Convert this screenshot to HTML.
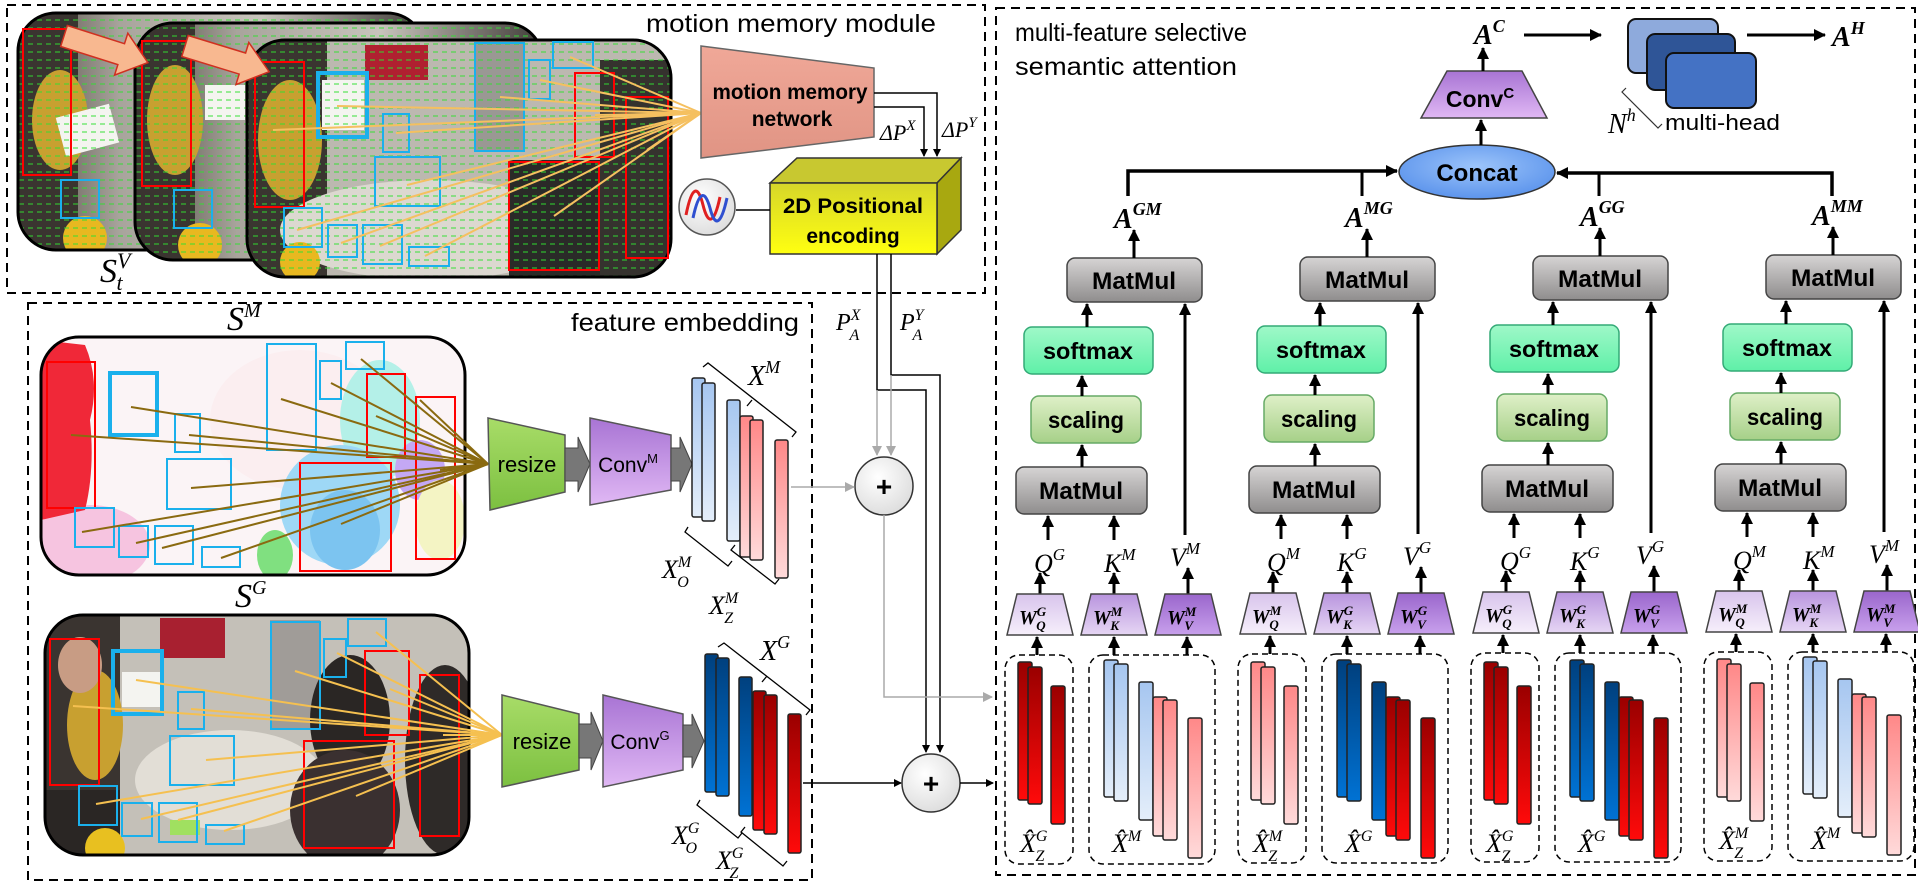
<!DOCTYPE html>
<html><head><meta charset="utf-8"><style>
html,body{margin:0;padding:0;background:#fff;}
svg{display:block;}
.t{font-family:"Liberation Sans",sans-serif;fill:#000;}
.b{font-family:"Liberation Sans",sans-serif;font-weight:bold;fill:#000;}
.m{font-family:"Liberation Serif",serif;font-style:italic;fill:#000;}
.mb{font-family:"Liberation Serif",serif;font-style:italic;font-weight:bold;fill:#000;}
</style></head><body>
<svg width="1918" height="887" viewBox="0 0 1918 887" xmlns="http://www.w3.org/2000/svg">
<defs>
<marker id="ah" markerWidth="8" markerHeight="8" refX="7" refY="4" orient="auto" markerUnits="userSpaceOnUse"><path d="M0,0 L8,4 L0,8 Z" fill="#000"/></marker>
<marker id="ahb" markerWidth="12" markerHeight="12" refX="11" refY="6" orient="auto" markerUnits="userSpaceOnUse"><path d="M0,0 L12,6 L0,12 Z" fill="#000"/></marker>
<marker id="ahg" markerWidth="10" markerHeight="10" refX="9" refY="5" orient="auto" markerUnits="userSpaceOnUse"><path d="M0,0 L10,5 L0,10 Z" fill="#aaa"/></marker>
<linearGradient id="gMat" x1="0" y1="0" x2="0" y2="1"><stop offset="0" stop-color="#d6d4d4"/><stop offset="1" stop-color="#8f8d8d"/></linearGradient>
<linearGradient id="gSoft" x1="0" y1="0" x2="0" y2="1"><stop offset="0" stop-color="#9ff8c8"/><stop offset="1" stop-color="#5ff0a8"/></linearGradient>
<linearGradient id="gScal" x1="0" y1="0" x2="0" y2="1"><stop offset="0" stop-color="#dff0c8"/><stop offset="1" stop-color="#a6d088"/></linearGradient>
<linearGradient id="gWq" x1="0" y1="0" x2="0" y2="1"><stop offset="0" stop-color="#d8c4ec"/><stop offset="1" stop-color="#f6effb"/></linearGradient>
<linearGradient id="gWk" x1="0" y1="0" x2="0" y2="1"><stop offset="0" stop-color="#b894de"/><stop offset="1" stop-color="#e6d6f4"/></linearGradient>
<linearGradient id="gWv" x1="0" y1="0" x2="0" y2="1"><stop offset="0" stop-color="#9a66cc"/><stop offset="1" stop-color="#c8a0ec"/></linearGradient>
<linearGradient id="gConv" x1="0" y1="0" x2="0" y2="1"><stop offset="0" stop-color="#a874d4"/><stop offset="1" stop-color="#e0b8f4"/></linearGradient>
<linearGradient id="gRes" x1="0" y1="0" x2="0" y2="1"><stop offset="0" stop-color="#a8dc68"/><stop offset="1" stop-color="#7cc040"/></linearGradient>
<linearGradient id="gDR" x1="0" y1="0" x2="0" y2="1"><stop offset="0" stop-color="#9a0000"/><stop offset="1" stop-color="#ff0a0a"/></linearGradient>
<linearGradient id="gPk" x1="0" y1="0" x2="0" y2="1"><stop offset="0" stop-color="#ff8888"/><stop offset="1" stop-color="#ffdada"/></linearGradient>
<linearGradient id="gLB" x1="0" y1="0" x2="0" y2="1"><stop offset="0" stop-color="#a6c6f0"/><stop offset="1" stop-color="#e4eefa"/></linearGradient>
<linearGradient id="gDB" x1="0" y1="0" x2="0" y2="1"><stop offset="0" stop-color="#00407e"/><stop offset="1" stop-color="#0072d4"/></linearGradient>
<linearGradient id="gYel" x1="0" y1="0" x2="0" y2="1"><stop offset="0" stop-color="#d6d62a"/><stop offset="1" stop-color="#ffff10"/></linearGradient>
<linearGradient id="gMMN" x1="0" y1="0" x2="0" y2="1"><stop offset="0" stop-color="#f0a898"/><stop offset="1" stop-color="#e09484"/></linearGradient>
<radialGradient id="gCat" cx="0.5" cy="0.4" r="0.6"><stop offset="0" stop-color="#9cc4fa"/><stop offset="1" stop-color="#5c94ec"/></radialGradient>
<radialGradient id="gPl" cx="0.4" cy="0.35" r="0.7"><stop offset="0" stop-color="#ffffff"/><stop offset="1" stop-color="#dcdcdc"/></radialGradient>
<pattern id="dots" width="9" height="8" patternUnits="userSpaceOnUse"><path d="M1,4 L6,4" stroke="#30e030" stroke-width="1.2"/></pattern>
<linearGradient id="gPhoto" x1="0" y1="0" x2="1" y2="0"><stop offset="0" stop-color="#4a443c"/><stop offset="0.25" stop-color="#a8a49c"/><stop offset="0.6" stop-color="#c8c4bc"/><stop offset="1" stop-color="#403c38"/></linearGradient>
<clipPath id="c1"><rect x="18" y="13" width="407" height="237" rx="38"/></clipPath>
<clipPath id="c2"><rect x="135" y="23" width="408" height="237" rx="38"/></clipPath>
<clipPath id="c3"><rect x="247" y="40" width="424" height="237" rx="38"/></clipPath>
<clipPath id="cM"><rect x="41" y="337" width="424" height="238" rx="38"/></clipPath>
<clipPath id="cG"><rect x="45" y="615" width="424" height="240" rx="38"/></clipPath>
</defs>

<!-- dashed containers -->
<rect x="7" y="5" width="978" height="288" fill="none" stroke="#000" stroke-width="2" stroke-dasharray="9,6"/>
<rect x="28" y="303" width="784" height="577" fill="none" stroke="#000" stroke-width="2" stroke-dasharray="9,6"/>
<rect x="996" y="8" width="919" height="867" fill="none" stroke="#000" stroke-width="2" stroke-dasharray="9,6"/>

<!-- photo frames top -->
<g clip-path="url(#c1)">
<rect x="18" y="13" width="407" height="237" fill="url(#gPhoto)"/>
<rect x="18" y="13" width="60" height="237" fill="#3a3430"/>
<ellipse cx="60" cy="120" rx="28" ry="50" fill="#c8a030"/>
<rect x="60" y="110" width="55" height="40" fill="#f4f4f0" transform="rotate(-15 88 130)"/>
<circle cx="85" cy="238" r="22" fill="#e8b820"/>
<rect x="18" y="13" width="407" height="237" fill="url(#dots)" opacity="0.8"/>
</g>
<rect x="18" y="13" width="407" height="237" rx="38" fill="none" stroke="#000" stroke-width="3"/>
<rect x="23" y="29" width="48" height="146" fill="none" stroke="#f00" stroke-width="2"/>
<rect x="61" y="180" width="38" height="38" fill="none" stroke="#1ab0ec" stroke-width="2"/>
<g clip-path="url(#c2)">
<rect x="135" y="23" width="408" height="237" fill="url(#gPhoto)"/>
<rect x="135" y="23" width="60" height="237" fill="#3a3430"/>
<ellipse cx="175" cy="120" rx="28" ry="55" fill="#c8a030"/>
<rect x="205" y="85" width="40" height="35" fill="#f4f4f0"/>
<circle cx="200" cy="245" r="22" fill="#e8b820"/>
<rect x="135" y="23" width="408" height="237" fill="url(#dots)" opacity="0.8"/>
</g>
<rect x="135" y="23" width="408" height="237" rx="38" fill="none" stroke="#000" stroke-width="3"/>
<rect x="142" y="41" width="49" height="145" fill="none" stroke="#f00" stroke-width="2"/>
<rect x="174" y="190" width="38" height="38" fill="none" stroke="#1ab0ec" stroke-width="2"/>
<g clip-path="url(#c3)">
<rect x="247" y="40" width="424" height="237" fill="#bcb8b0"/>
<rect x="247" y="40" width="80" height="237" fill="#3a3530"/>
<ellipse cx="290" cy="140" rx="32" ry="60" fill="#c8a030"/>
<rect x="365" y="45" width="63" height="35" fill="#b02030"/>
<rect x="475" y="43" width="50" height="107" fill="#9a9894"/>
<ellipse cx="430" cy="230" rx="150" ry="50" fill="#dcd8d0"/>
<rect x="509" y="160" width="92" height="117" fill="#2a2a28"/>
<rect x="600" y="60" width="71" height="217" fill="#35322e"/>
<rect x="322" y="80" width="42" height="50" fill="#f4f4f0"/>
<circle cx="300" cy="262" r="20" fill="#e8b820"/>
<rect x="247" y="40" width="424" height="237" fill="url(#dots)" opacity="0.8"/>
</g>
<rect x="247" y="40" width="424" height="237" rx="38" fill="none" stroke="#000" stroke-width="3"/>
<g fill="none" stroke-width="2">
<rect x="255" y="62" width="49" height="145" stroke="#f00"/>
<rect x="318" y="73" width="49" height="64" stroke="#1ab0ec" stroke-width="4"/>
<rect x="383" y="114" width="26" height="38" stroke="#1ab0ec"/>
<rect x="475" y="43" width="49" height="108" stroke="#1ab0ec"/>
<rect x="553" y="42" width="40" height="26" stroke="#1ab0ec"/>
<rect x="529" y="60" width="21" height="39" stroke="#1ab0ec"/>
<rect x="575" y="73" width="39" height="84" stroke="#f00"/>
<rect x="626" y="97" width="42" height="161" stroke="#f00"/>
<rect x="375" y="157" width="65" height="49" stroke="#1ab0ec"/>
<rect x="509" y="162" width="90" height="108" stroke="#f00"/>
<rect x="284" y="208" width="38" height="39" stroke="#1ab0ec"/>
<rect x="328" y="225" width="29" height="32" stroke="#1ab0ec"/>
<rect x="363" y="225" width="39" height="39" stroke="#1ab0ec"/>
<rect x="409" y="247" width="40" height="19" stroke="#1ab0ec"/>
</g>
<g stroke="#f5c060" stroke-width="2">
<line x1="273" y1="130" x2="701" y2="113"/><line x1="337" y1="106" x2="701" y2="113"/>
<line x1="396" y1="133" x2="701" y2="113"/><line x1="500" y1="97" x2="701" y2="113"/>
<line x1="570" y1="57" x2="701" y2="113"/><line x1="540" y1="80" x2="701" y2="113"/>
<line x1="595" y1="115" x2="701" y2="113"/><line x1="407" y1="185" x2="701" y2="113"/>
<line x1="554" y1="216" x2="701" y2="113"/><line x1="297" y1="230" x2="701" y2="113"/>
<line x1="341" y1="243" x2="701" y2="113"/><line x1="380" y1="246" x2="701" y2="113"/>
<line x1="425" y1="256" x2="701" y2="113"/><line x1="647" y1="150" x2="701" y2="113"/>
</g>
<!-- pink arrows -->
<g transform="translate(64,36) rotate(17.6)"><polygon points="0,-11 60,-11 60,-22 88,0 60,22 60,11 0,11" fill="#f8b890" stroke="#d03020" stroke-width="1.5"/></g>
<g transform="translate(185,46) rotate(17)"><polygon points="0,-11 60,-11 60,-22 88,0 60,22 60,11 0,11" fill="#f8b890" stroke="#d03020" stroke-width="1.5"/></g>
<text class="m" x="100" y="282" font-size="34">S<tspan font-size="22" dy="-14">V</tspan><tspan font-size="22" dx="-14" dy="22">t</tspan></text>

<!-- motion memory module -->
<text class="t" x="646" y="32" font-size="25" textLength="290" lengthAdjust="spacingAndGlyphs">motion memory module</text>
<polygon points="701,46 874,68 874,137 701,158" fill="url(#gMMN)" stroke="#666" stroke-width="1.5"/>
<text class="b" x="790" y="99" font-size="21" text-anchor="middle" textLength="155" lengthAdjust="spacingAndGlyphs">motion memory</text>
<text class="b" x="792" y="126" font-size="21" text-anchor="middle">network</text>
<polyline points="874,93 937,93 937,156" fill="none" stroke="#000" stroke-width="1.5" marker-end="url(#ah)"/>
<polyline points="874,107 924,107 924,156" fill="none" stroke="#000" stroke-width="1.5" marker-end="url(#ah)"/>
<text class="m" x="880" y="140" font-size="22">ΔP<tspan font-size="15" dy="-10">X</tspan></text>
<text class="m" x="942" y="137" font-size="22">ΔP<tspan font-size="15" dy="-10">Y</tspan></text>
<!-- 2D box -->
<polygon points="770,183 797,158 961,158 937,183" fill="#c8c830" stroke="#333" stroke-width="1.5"/>
<polygon points="937,183 961,158 961,230 937,254" fill="#a8a810" stroke="#333" stroke-width="1.5"/>
<rect x="770" y="183" width="167" height="71" fill="url(#gYel)" stroke="#333" stroke-width="1.5"/>
<text class="b" x="853" y="213" font-size="21" text-anchor="middle" textLength="140" lengthAdjust="spacingAndGlyphs">2D Positional</text>
<text class="b" x="853" y="243" font-size="21" text-anchor="middle">encoding</text>
<line x1="736" y1="210" x2="770" y2="210" stroke="#000" stroke-width="1.5"/>
<circle cx="707" cy="207" r="28" fill="url(#gPl)" stroke="#555" stroke-width="1.5"/>
<path d="M686,215 C692,185 698,185 703,205 C708,225 714,225 720,197" fill="none" stroke="#e02020" stroke-width="3"/>
<path d="M693,218 C699,190 705,190 710,208 C715,228 721,225 727,198" fill="none" stroke="#3050d0" stroke-width="3"/>
<!-- PA lines -->
<text class="m" x="836" y="330" font-size="24">P<tspan font-size="16" dy="-10">X</tspan><tspan font-size="16" dx="-11" dy="20">A</tspan></text>
<text class="m" x="900" y="330" font-size="24">P<tspan font-size="16" dy="-10">Y</tspan><tspan font-size="16" dx="-10" dy="20">A</tspan></text>
<polyline points="877,254 877,390 926,390 926,752" fill="none" stroke="#000" stroke-width="1.5" marker-end="url(#ah)"/>
<polyline points="891,254 891,375 940,375 940,752" fill="none" stroke="#000" stroke-width="1.5" marker-end="url(#ah)"/>
<line x1="877" y1="390" x2="877" y2="455" stroke="#aaa" stroke-width="1.5" marker-end="url(#ahg)"/>
<line x1="891" y1="375" x2="891" y2="455" stroke="#aaa" stroke-width="1.5" marker-end="url(#ahg)"/>
<!-- plus circles -->
<circle cx="884" cy="486" r="29" fill="url(#gPl)" stroke="#333" stroke-width="1.5"/>
<text class="b" x="884" y="496" font-size="28" text-anchor="middle">+</text>
<circle cx="931" cy="783" r="29" fill="url(#gPl)" stroke="#333" stroke-width="1.5"/>
<text class="b" x="931" y="793" font-size="28" text-anchor="middle">+</text>
<line x1="791" y1="487" x2="854" y2="487" stroke="#aaa" stroke-width="1.5" marker-end="url(#ahg)"/>
<polyline points="884,515 884,697 992,697" fill="none" stroke="#aaa" stroke-width="1.5" marker-end="url(#ahg)"/>
<line x1="803" y1="783" x2="901" y2="783" stroke="#000" stroke-width="1.5" marker-end="url(#ah)"/>
<line x1="960" y1="783" x2="993" y2="783" stroke="#000" stroke-width="1.5" marker-end="url(#ah)"/>

<!-- feature embedding -->
<text class="t" x="571" y="331" font-size="25" textLength="228" lengthAdjust="spacingAndGlyphs">feature embedding</text>
<text class="m" x="227" y="330" font-size="34">S<tspan font-size="20" dy="-13">M</tspan></text>
<text class="m" x="235" y="607" font-size="34">S<tspan font-size="20" dy="-13">G</tspan></text>
<!-- S^M -->
<g clip-path="url(#cM)">
<rect x="41" y="337" width="424" height="238" fill="#fbf4f6"/>
<ellipse cx="300" cy="420" rx="90" ry="70" fill="#fbeef0"/>
<ellipse cx="90" cy="545" rx="60" ry="40" fill="#f6c4e0"/>
<ellipse cx="380" cy="420" rx="40" ry="60" fill="#b4f0e8"/>
<ellipse cx="340" cy="505" rx="60" ry="60" fill="#9ed8f6"/>
<ellipse cx="345" cy="530" rx="35" ry="40" fill="#7cc4f0"/>
<ellipse cx="420" cy="470" rx="25" ry="30" fill="#c4a8f4"/>
<ellipse cx="275" cy="555" rx="18" ry="25" fill="#80e080"/>
<ellipse cx="440" cy="520" rx="25" ry="40" fill="#f4f4c4"/>
<path d="M41,340 L85,345 Q100,380 90,420 Q95,470 85,510 L41,520 Z" fill="#f02838"/>
</g>
<rect x="41" y="337" width="424" height="238" rx="38" fill="none" stroke="#000" stroke-width="3"/>
<g fill="none" stroke-width="2">
<rect x="47" y="362" width="48" height="146" stroke="#f00"/>
<rect x="110" y="373" width="47" height="62" stroke="#1ab0ec" stroke-width="4"/>
<rect x="175" y="414" width="25" height="38" stroke="#1ab0ec"/>
<rect x="267" y="344" width="49" height="106" stroke="#1ab0ec"/>
<rect x="320" y="361" width="21" height="38" stroke="#1ab0ec"/>
<rect x="346" y="342" width="38" height="27" stroke="#1ab0ec"/>
<rect x="367" y="374" width="38" height="83" stroke="#f00"/>
<rect x="416" y="397" width="39" height="162" stroke="#f00"/>
<rect x="167" y="459" width="64" height="50" stroke="#1ab0ec"/>
<rect x="300" y="463" width="91" height="108" stroke="#f00"/>
<rect x="75" y="508" width="39" height="39" stroke="#1ab0ec"/>
<rect x="119" y="526" width="29" height="31" stroke="#1ab0ec"/>
<rect x="155" y="526" width="38" height="38" stroke="#1ab0ec"/>
<rect x="202" y="547" width="38" height="20" stroke="#1ab0ec"/>
</g>
<g stroke="#8a6a10" stroke-width="2">
<line x1="71" y1="435" x2="488" y2="464"/><line x1="131" y1="407" x2="488" y2="464"/>
<line x1="189" y1="435" x2="488" y2="464"/><line x1="281" y1="399" x2="488" y2="464"/>
<line x1="331" y1="383" x2="488" y2="464"/><line x1="361" y1="359" x2="488" y2="464"/>
<line x1="376" y1="416" x2="488" y2="464"/><line x1="420" y1="400" x2="488" y2="464"/>
<line x1="191" y1="488" x2="488" y2="464"/><line x1="82" y1="532" x2="488" y2="464"/>
<line x1="136" y1="543" x2="488" y2="464"/><line x1="162" y1="548" x2="488" y2="464"/>
<line x1="221" y1="558" x2="488" y2="464"/><line x1="341" y1="524" x2="488" y2="464"/>
<line x1="440" y1="470" x2="488" y2="464"/>
</g>
<!-- S^G -->
<g clip-path="url(#cG)">
<rect x="45" y="615" width="424" height="240" fill="#c4c0b8"/>
<rect x="45" y="615" width="75" height="240" fill="#3a3430"/>
<ellipse cx="95" cy="725" rx="28" ry="55" fill="#c8a030"/>
<ellipse cx="80" cy="665" rx="22" ry="28" fill="#c89c84"/>
<rect x="160" y="618" width="65" height="40" fill="#a82030"/>
<rect x="270" y="620" width="50" height="110" fill="#a09c98"/>
<rect x="122" y="672" width="38" height="35" fill="#f4f4f0"/>
<ellipse cx="230" cy="780" rx="95" ry="50" fill="#e2ded6"/>
<ellipse cx="350" cy="720" rx="40" ry="65" fill="#2a2624"/>
<ellipse cx="445" cy="760" rx="40" ry="95" fill="#2e2a28"/>
<ellipse cx="345" cy="810" rx="55" ry="60" fill="#3a3030"/>
<rect x="45" y="790" width="75" height="65" fill="#2a2624"/>
<circle cx="105" cy="848" r="20" fill="#e8c020"/>
<rect x="170" y="820" width="30" height="15" fill="#a0e060"/>
</g>
<rect x="45" y="615" width="424" height="240" rx="38" fill="none" stroke="#000" stroke-width="3"/>
<g fill="none" stroke-width="2">
<rect x="50" y="639" width="49" height="146" stroke="#f00"/>
<rect x="113" y="651" width="49" height="63" stroke="#1ab0ec" stroke-width="4"/>
<rect x="178" y="692" width="26" height="37" stroke="#1ab0ec"/>
<rect x="271" y="622" width="49" height="107" stroke="#1ab0ec"/>
<rect x="324" y="639" width="22" height="38" stroke="#1ab0ec"/>
<rect x="348" y="619" width="38" height="27" stroke="#1ab0ec"/>
<rect x="365" y="651" width="44" height="84" stroke="#f00"/>
<rect x="420" y="675" width="39" height="161" stroke="#f00"/>
<rect x="170" y="736" width="64" height="49" stroke="#1ab0ec"/>
<rect x="304" y="741" width="90" height="107" stroke="#f00"/>
<rect x="79" y="786" width="38" height="39" stroke="#1ab0ec"/>
<rect x="122" y="803" width="30" height="33" stroke="#1ab0ec"/>
<rect x="159" y="803" width="38" height="39" stroke="#1ab0ec"/>
<rect x="206" y="825" width="38" height="19" stroke="#1ab0ec"/>
</g>
<g stroke="#f5c050" stroke-width="2">
<line x1="73" y1="706" x2="502" y2="735"/><line x1="136" y1="680" x2="502" y2="735"/>
<line x1="191" y1="709" x2="502" y2="735"/><line x1="295" y1="671" x2="502" y2="735"/>
<line x1="337" y1="653" x2="502" y2="735"/><line x1="376" y1="632" x2="502" y2="735"/>
<line x1="390" y1="689" x2="502" y2="735"/><line x1="443" y1="735" x2="502" y2="735"/>
<line x1="206" y1="760" x2="502" y2="735"/><line x1="96" y1="804" x2="502" y2="735"/>
<line x1="141" y1="819" x2="502" y2="735"/><line x1="178" y1="820" x2="502" y2="735"/>
<line x1="224" y1="831" x2="502" y2="735"/><line x1="356" y1="796" x2="502" y2="735"/>
</g>
<!-- resize / conv M -->
<polygon points="488,418 565,435 565,492 490,510" fill="url(#gRes)" stroke="#555" stroke-width="1.5"/>
<text class="t" x="527" y="472" font-size="22" text-anchor="middle">resize</text>
<polygon points="565,448 578,448 578,437 590,464 578,492 578,481 565,481" fill="#777" stroke="#444"/>
<polygon points="590,418 671,435 671,490 590,505" fill="url(#gConv)" stroke="#555" stroke-width="1.5"/>
<text class="t" x="628" y="472" font-size="21" text-anchor="middle">Conv<tspan font-size="13" dy="-9">M</tspan></text>
<polygon points="671,448 680,448 680,437 692,464 680,492 680,481 671,481" fill="#777" stroke="#444"/>
<!-- resize / conv G -->
<polygon points="502,695 579,714 579,770 502,787" fill="url(#gRes)" stroke="#555" stroke-width="1.5"/>
<text class="t" x="542" y="749" font-size="22" text-anchor="middle">resize</text>
<polygon points="579,724 591,724 591,712 603,741 591,770 591,758 579,758" fill="#777" stroke="#444"/>
<polygon points="603,695 683,714 683,770 603,787" fill="url(#gConv)" stroke="#555" stroke-width="1.5"/>
<text class="t" x="640" y="749" font-size="21" text-anchor="middle">Conv<tspan font-size="13" dy="-9">G</tspan></text>
<polygon points="683,725 692,725 692,714 704,741 692,768 692,757 683,757" fill="#777" stroke="#444"/>

<!-- X^M stack -->
<g stroke="#222" stroke-width="1.5">
<rect x="692" y="378" width="13" height="139" fill="url(#gLB)" rx="2"/>
<rect x="702" y="383" width="13" height="138" fill="url(#gLB)" rx="2"/>
<rect x="727" y="400" width="13" height="141" fill="url(#gLB)" rx="2"/>
<rect x="740" y="416" width="13" height="141" fill="url(#gPk)" rx="2"/>
<rect x="750" y="420" width="13" height="140" fill="url(#gPk)" rx="2"/>
<rect x="775" y="440" width="13" height="138" fill="url(#gPk)" rx="2"/>
</g>
<g stroke="#000" stroke-width="1.3" fill="none">
<path d="M703,367 L708,363 L796,432 L792,437"/><path d="M752,400 L747,406"/>
<path d="M688,527 L685,532 L728,566 L732,561"/><path d="M735,545 L731,550 L775,584 L779,579"/>
</g>
<text class="m" x="748" y="385" font-size="28">X<tspan font-size="18" dy="-12">M</tspan></text>
<text class="m" x="662" y="578" font-size="26">X<tspan font-size="16" dy="-11">M</tspan><tspan font-size="16" dx="-14" dy="20">O</tspan></text>
<text class="m" x="709" y="614" font-size="26">X<tspan font-size="16" dy="-11">M</tspan><tspan font-size="16" dx="-14" dy="20">Z</tspan></text>
<!-- X^G stack -->
<g stroke="#222" stroke-width="1.5">
<rect x="705" y="654" width="13" height="138" fill="url(#gDB)" rx="2"/>
<rect x="716" y="658" width="13" height="138" fill="url(#gDB)" rx="2"/>
<rect x="739" y="677" width="13" height="139" fill="url(#gDB)" rx="2"/>
<rect x="753" y="691" width="13" height="139" fill="url(#gDR)" rx="2"/>
<rect x="764" y="695" width="13" height="139" fill="url(#gDR)" rx="2"/>
<rect x="788" y="714" width="13" height="139" fill="url(#gDR)" rx="2"/>
</g>
<g stroke="#000" stroke-width="1.3" fill="none">
<path d="M718,647 L724,643 L810,710 L806,715"/><path d="M767,676 L762,682"/>
<path d="M700,800 L697,805 L738,838 L742,833"/><path d="M745,827 L741,832 L783,866 L787,861"/>
</g>
<text class="m" x="760" y="660" font-size="28">X<tspan font-size="18" dy="-12">G</tspan></text>
<text class="m" x="672" y="844" font-size="26">X<tspan font-size="16" dy="-11">G</tspan><tspan font-size="16" dx="-14" dy="20">O</tspan></text>
<text class="m" x="716" y="869" font-size="26">X<tspan font-size="16" dy="-11">G</tspan><tspan font-size="16" dx="-14" dy="20">Z</tspan></text>

<!-- right section -->
<text class="t" x="1015" y="41" font-size="25" textLength="232" lengthAdjust="spacingAndGlyphs">multi-feature selective</text>
<text class="t" x="1015" y="75" font-size="25" textLength="222" lengthAdjust="spacingAndGlyphs">semantic attention</text>
<!-- Concat / Conv^C -->
<ellipse cx="1477" cy="172" rx="78" ry="27" fill="url(#gCat)" stroke="#333" stroke-width="1.5"/>
<text class="b" x="1477" y="181" font-size="24" text-anchor="middle">Concat</text>
<polygon points="1447,71 1522,71 1547,118 1421,118" fill="url(#gConv)" stroke="#444" stroke-width="1.5"/>
<text class="b" x="1480" y="107" font-size="23" text-anchor="middle">Conv<tspan font-size="15" dy="-9">C</tspan></text>
<line x1="1481" y1="145" x2="1481" y2="120" stroke="#000" stroke-width="3" marker-end="url(#ahb)"/>
<line x1="1483" y1="71" x2="1483" y2="48" stroke="#000" stroke-width="3" marker-end="url(#ahb)"/>
<text class="mb" x="1474" y="44" font-size="28">A<tspan font-size="18" dy="-12">C</tspan></text>
<line x1="1524" y1="35" x2="1601" y2="35" stroke="#000" stroke-width="3" marker-end="url(#ahb)"/>
<rect x="1628" y="19" width="90" height="54" rx="8" fill="#8eaadc" stroke="#111" stroke-width="2"/>
<rect x="1647" y="34" width="88" height="56" rx="8" fill="#2f5597" stroke="#111" stroke-width="2"/>
<rect x="1666" y="53" width="90" height="55" rx="8" fill="#4472c4" stroke="#111" stroke-width="2"/>
<path d="M1626,88 L1622,92 L1658,128 L1662,124" fill="none" stroke="#333" stroke-width="1.2"/>
<line x1="1747" y1="35" x2="1825" y2="35" stroke="#000" stroke-width="3" marker-end="url(#ahb)"/>
<text class="mb" x="1832" y="46" font-size="28">A<tspan font-size="18" dy="-12">H</tspan></text>
<text class="m" x="1608" y="133" font-size="28">N<tspan font-size="18" dy="-12">h</tspan></text>
<text class="t" x="1665" y="130" font-size="22" textLength="115" lengthAdjust="spacingAndGlyphs">multi-head</text>
<!-- concat lines -->
<polyline points="1128,196 1128,171 1397,171" fill="none" stroke="#000" stroke-width="3.5" marker-end="url(#ahb)"/>
<line x1="1362" y1="171" x2="1362" y2="196" stroke="#000" stroke-width="3"/>
<polyline points="1832,196 1832,173 1557,173" fill="none" stroke="#000" stroke-width="3.5" marker-end="url(#ahb)"/>
<line x1="1599" y1="173" x2="1599" y2="196" stroke="#000" stroke-width="3"/>

<!-- column template pieces (shapes) -->
<g id="col1">
<rect x="1067" y="258" width="135" height="44" rx="8" fill="url(#gMat)" stroke="#444" stroke-width="1.5"/>
<rect x="1024" y="327" width="129" height="47" rx="8" fill="url(#gSoft)" stroke="#3a7" stroke-width="1.5"/>
<rect x="1031" y="396" width="110" height="47" rx="8" fill="url(#gScal)" stroke="#6a6" stroke-width="1.5"/>
<rect x="1016" y="467" width="131" height="47" rx="8" fill="url(#gMat)" stroke="#444" stroke-width="1.5"/>
<g stroke="#000" stroke-width="3" marker-end="url(#ahb)">
<line x1="1134" y1="258" x2="1134" y2="230"/>
<line x1="1087" y1="327" x2="1087" y2="304"/>
<line x1="1082" y1="396" x2="1082" y2="376"/>
<line x1="1082" y1="467" x2="1082" y2="445"/>
<line x1="1185" y1="535" x2="1185" y2="304"/>
<line x1="1048" y1="540" x2="1048" y2="516"/>
<line x1="1114" y1="540" x2="1114" y2="516"/>
<line x1="1040" y1="594" x2="1040" y2="573"/>
<line x1="1114" y1="594" x2="1114" y2="573"/>
<line x1="1188" y1="594" x2="1188" y2="568"/>
<line x1="1037" y1="655" x2="1037" y2="637"/>
<line x1="1114" y1="655" x2="1114" y2="637"/>
<line x1="1187" y1="655" x2="1187" y2="637"/>
</g>
<polygon points="1017,594 1063,594 1073,635 1007,635" fill="url(#gWq)" stroke="#444" stroke-width="1.5"/>
<polygon points="1091,594 1137,594 1147,635 1081,635" fill="url(#gWk)" stroke="#444" stroke-width="1.5"/>
<polygon points="1165,594 1211,594 1221,635 1155,635" fill="url(#gWv)" stroke="#444" stroke-width="1.5"/>
<rect x="1005" y="655" width="68" height="209" rx="14" fill="none" stroke="#000" stroke-width="1.5" stroke-dasharray="6,4"/>
<rect x="1089" y="655" width="126" height="209" rx="14" fill="none" stroke="#000" stroke-width="1.5" stroke-dasharray="6,4"/>
<text class="b" x="1134" y="289" font-size="24" text-anchor="middle" textLength="84" lengthAdjust="spacingAndGlyphs">MatMul</text>
<text class="b" x="1088" y="359" font-size="23" text-anchor="middle" textLength="90" lengthAdjust="spacingAndGlyphs">softmax</text>
<text class="b" x="1086" y="428" font-size="23" text-anchor="middle" textLength="76" lengthAdjust="spacingAndGlyphs">scaling</text>
<text class="b" x="1081" y="499" font-size="24" text-anchor="middle" textLength="84" lengthAdjust="spacingAndGlyphs">MatMul</text>
</g>
<use href="#col1" x="233" y="-1"/>
<use href="#col1" x="466" y="-2"/>
<use href="#col1" x="699" y="-3"/>

<!-- column bars -->
<!-- col1: Z darkred, big lightblue+pink -->
<g stroke="#222" stroke-width="1.5">
<rect x="1018" y="662" width="14" height="138" rx="2" fill="url(#gDR)"/><rect x="1028" y="667" width="14" height="137" rx="2" fill="url(#gDR)"/><rect x="1051" y="686" width="14" height="138" rx="2" fill="url(#gDR)"/>
<rect x="1104" y="660" width="14" height="137" rx="2" fill="url(#gLB)"/><rect x="1114" y="664" width="14" height="137" rx="2" fill="url(#gLB)"/><rect x="1139" y="682" width="14" height="138" rx="2" fill="url(#gLB)"/>
<rect x="1153" y="697" width="14" height="139" rx="2" fill="url(#gPk)"/><rect x="1163" y="700" width="14" height="140" rx="2" fill="url(#gPk)"/><rect x="1188" y="718" width="14" height="140" rx="2" fill="url(#gPk)"/>
</g>
<!-- col2: Z pink, big darkblue+red -->
<g stroke="#222" stroke-width="1.5" transform="translate(233,0)">
<rect x="1018" y="662" width="14" height="138" rx="2" fill="url(#gPk)"/><rect x="1028" y="667" width="14" height="137" rx="2" fill="url(#gPk)"/><rect x="1051" y="686" width="14" height="138" rx="2" fill="url(#gPk)"/>
<rect x="1104" y="660" width="14" height="137" rx="2" fill="url(#gDB)"/><rect x="1114" y="664" width="14" height="137" rx="2" fill="url(#gDB)"/><rect x="1139" y="682" width="14" height="138" rx="2" fill="url(#gDB)"/>
<rect x="1153" y="697" width="14" height="139" rx="2" fill="url(#gDR)"/><rect x="1163" y="700" width="14" height="140" rx="2" fill="url(#gDR)"/><rect x="1188" y="718" width="14" height="140" rx="2" fill="url(#gDR)"/>
</g>
<!-- col3 -->
<g stroke="#222" stroke-width="1.5" transform="translate(466,0)">
<rect x="1018" y="662" width="14" height="138" rx="2" fill="url(#gDR)"/><rect x="1028" y="667" width="14" height="137" rx="2" fill="url(#gDR)"/><rect x="1051" y="686" width="14" height="138" rx="2" fill="url(#gDR)"/>
<rect x="1104" y="660" width="14" height="137" rx="2" fill="url(#gDB)"/><rect x="1114" y="664" width="14" height="137" rx="2" fill="url(#gDB)"/><rect x="1139" y="682" width="14" height="138" rx="2" fill="url(#gDB)"/>
<rect x="1153" y="697" width="14" height="139" rx="2" fill="url(#gDR)"/><rect x="1163" y="700" width="14" height="140" rx="2" fill="url(#gDR)"/><rect x="1188" y="718" width="14" height="140" rx="2" fill="url(#gDR)"/>
</g>
<!-- col4 -->
<g stroke="#222" stroke-width="1.5" transform="translate(699,-3)">
<rect x="1018" y="662" width="14" height="138" rx="2" fill="url(#gPk)"/><rect x="1028" y="667" width="14" height="137" rx="2" fill="url(#gPk)"/><rect x="1051" y="686" width="14" height="138" rx="2" fill="url(#gPk)"/>
<rect x="1104" y="660" width="14" height="137" rx="2" fill="url(#gLB)"/><rect x="1114" y="664" width="14" height="137" rx="2" fill="url(#gLB)"/><rect x="1139" y="682" width="14" height="138" rx="2" fill="url(#gLB)"/>
<rect x="1153" y="697" width="14" height="139" rx="2" fill="url(#gPk)"/><rect x="1163" y="700" width="14" height="140" rx="2" fill="url(#gPk)"/><rect x="1188" y="718" width="14" height="140" rx="2" fill="url(#gPk)"/>
</g>

<!-- column labels col1 -->
<text class="mb" x="1114" y="228" font-size="28">A<tspan font-size="18" dy="-13">GM</tspan></text>
<text class="m" x="1034" y="572" font-size="26">Q<tspan font-size="17" dy="-12">G</tspan></text>
<text class="m" x="1104" y="572" font-size="26">K<tspan font-size="17" dy="-12">M</tspan></text>
<text class="m" x="1170" y="566" font-size="26">V<tspan font-size="17" dy="-12">M</tspan></text>
<text class="mb" x="1019" y="624" font-size="20">W<tspan font-size="13" dy="-8">G</tspan><tspan font-size="13" dx="-10" dy="14">Q</tspan></text>
<text class="mb" x="1093" y="624" font-size="20">W<tspan font-size="13" dy="-8">M</tspan><tspan font-size="13" dx="-12" dy="14">K</tspan></text>
<text class="mb" x="1167" y="624" font-size="20">W<tspan font-size="13" dy="-8">M</tspan><tspan font-size="13" dx="-12" dy="14">V</tspan></text>
<text class="m" x="1020" y="852" font-size="26">X̂<tspan font-size="16" dy="-11">G</tspan><tspan font-size="16" dx="-12" dy="20">Z</tspan></text>
<text class="m" x="1112" y="852" font-size="26">X̂<tspan font-size="16" dy="-11">M</tspan></text>
<!-- col2 -->
<text class="mb" x="1345" y="227" font-size="28">A<tspan font-size="18" dy="-13">MG</tspan></text>
<text class="m" x="1267" y="571" font-size="26">Q<tspan font-size="17" dy="-12">M</tspan></text>
<text class="m" x="1337" y="571" font-size="26">K<tspan font-size="17" dy="-12">G</tspan></text>
<text class="m" x="1403" y="565" font-size="26">V<tspan font-size="17" dy="-12">G</tspan></text>
<text class="mb" x="1252" y="623" font-size="20">W<tspan font-size="13" dy="-8">M</tspan><tspan font-size="13" dx="-12" dy="14">Q</tspan></text>
<text class="mb" x="1326" y="623" font-size="20">W<tspan font-size="13" dy="-8">G</tspan><tspan font-size="13" dx="-10" dy="14">K</tspan></text>
<text class="mb" x="1400" y="623" font-size="20">W<tspan font-size="13" dy="-8">G</tspan><tspan font-size="13" dx="-10" dy="14">V</tspan></text>
<text class="m" x="1253" y="852" font-size="26">X̂<tspan font-size="16" dy="-11">M</tspan><tspan font-size="16" dx="-14" dy="20">Z</tspan></text>
<text class="m" x="1345" y="852" font-size="26">X̂<tspan font-size="16" dy="-11">G</tspan></text>
<!-- col3 -->
<text class="mb" x="1580" y="226" font-size="28">A<tspan font-size="18" dy="-13">GG</tspan></text>
<text class="m" x="1500" y="570" font-size="26">Q<tspan font-size="17" dy="-12">G</tspan></text>
<text class="m" x="1570" y="570" font-size="26">K<tspan font-size="17" dy="-12">G</tspan></text>
<text class="m" x="1636" y="564" font-size="26">V<tspan font-size="17" dy="-12">G</tspan></text>
<text class="mb" x="1485" y="622" font-size="20">W<tspan font-size="13" dy="-8">G</tspan><tspan font-size="13" dx="-10" dy="14">Q</tspan></text>
<text class="mb" x="1559" y="622" font-size="20">W<tspan font-size="13" dy="-8">G</tspan><tspan font-size="13" dx="-10" dy="14">K</tspan></text>
<text class="mb" x="1633" y="622" font-size="20">W<tspan font-size="13" dy="-8">G</tspan><tspan font-size="13" dx="-10" dy="14">V</tspan></text>
<text class="m" x="1486" y="852" font-size="26">X̂<tspan font-size="16" dy="-11">G</tspan><tspan font-size="16" dx="-12" dy="20">Z</tspan></text>
<text class="m" x="1578" y="852" font-size="26">X̂<tspan font-size="16" dy="-11">G</tspan></text>
<!-- col4 -->
<text class="mb" x="1812" y="225" font-size="28">A<tspan font-size="18" dy="-13">MM</tspan></text>
<text class="m" x="1733" y="569" font-size="26">Q<tspan font-size="17" dy="-12">M</tspan></text>
<text class="m" x="1803" y="569" font-size="26">K<tspan font-size="17" dy="-12">M</tspan></text>
<text class="m" x="1869" y="563" font-size="26">V<tspan font-size="17" dy="-12">M</tspan></text>
<text class="mb" x="1718" y="621" font-size="20">W<tspan font-size="13" dy="-8">M</tspan><tspan font-size="13" dx="-12" dy="14">Q</tspan></text>
<text class="mb" x="1792" y="621" font-size="20">W<tspan font-size="13" dy="-8">M</tspan><tspan font-size="13" dx="-12" dy="14">K</tspan></text>
<text class="mb" x="1866" y="621" font-size="20">W<tspan font-size="13" dy="-8">M</tspan><tspan font-size="13" dx="-12" dy="14">V</tspan></text>
<text class="m" x="1719" y="849" font-size="26">X̂<tspan font-size="16" dy="-11">M</tspan><tspan font-size="16" dx="-14" dy="20">Z</tspan></text>
<text class="m" x="1811" y="849" font-size="26">X̂<tspan font-size="16" dy="-11">M</tspan></text>
</svg>
</body></html>
